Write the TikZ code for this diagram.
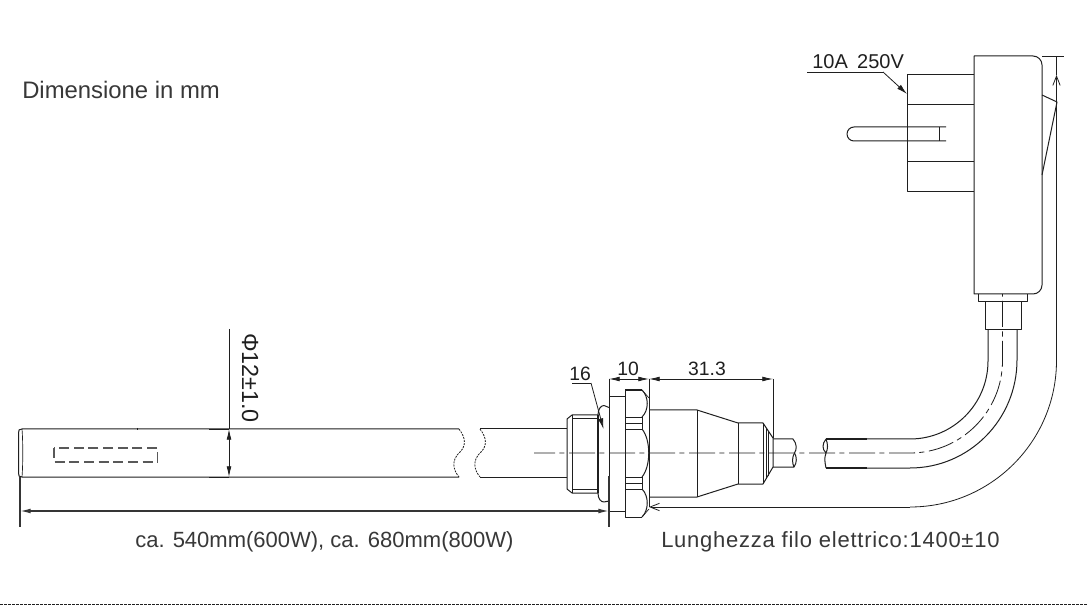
\documentclass[tikz,border=0pt]{standalone}
\usepackage{fontspec}
\setmainfont{Liberation Sans}
\usetikzlibrary{arrows.meta}
\definecolor{ink}{gray}{0.12}
\definecolor{txt}{gray}{0.22}
\tikzset{
  part/.style={draw=ink,line width=0.75pt,line join=round},
  thin part/.style={draw=ink,line width=0.5pt},
  breakline/.style={draw=ink,line width=0.6pt,dash pattern=on 1.5pt off 0.8pt},
  centre/.style={draw=ink,line width=0.6pt,dash pattern=on 19.5pt off 3.2pt on 3.8pt off 3.5pt,dash phase=3.75pt},
  hidden/.style={draw=gray!70!black,line width=0.8pt,dash pattern=on 7.5pt off 3.5pt},
  dimline/.style={draw=ink,line width=0.6pt},
  heavydim/.style={draw=ink!90,line width=1pt},
  fillarrow/.style={-{Latex[length=8pt,width=4pt]}},
  twoarrow/.style={{Latex[length=8pt,width=3.6pt]}-{Latex[length=8pt,width=3.6pt]}},
  openarrow/.style={-{Straight Barb[length=7pt,width=5.5pt]}},
  label/.style={inner sep=0pt,anchor=base west,text=txt},
  dimtext/.style={inner sep=0pt,anchor=base,text=ink,font=\fontsize{14.5}{15}\selectfont}
}
\begin{document}
\begin{tikzpicture}[x=0.75pt,y=-0.75pt]
\useasboundingbox (0,0) rectangle (1088,605);
\fill[white] (0,0) rectangle (1088,605);
% coordinates of the dimension and leader ends
\coordinate (rodL) at (20,511);
\coordinate (rodR) at (609,511);
\coordinate (rodT) at (229,429);
\coordinate (rodB) at (229,477);
% rod
\draw[part] (459,429) -- (22,429) .. controls (19,429) and (18.5,430) .. (18.5,433) -- (18.5,473) .. controls (18.5,476) and (19,477) .. (22,477) -- (459,477);
\draw[thin part] (22,429) .. controls (23,440) and (23,466) .. (22,477);
\draw[thin part] (137,428) -- (137,430.5);
\draw[hidden] (54,448) rectangle (157.5,462);
\draw[breakline] (459,429) .. controls (466,438) and (466,446) .. (460,452) .. controls (451,460) and (453,470) .. (459,477);
\draw[breakline] (480,429) .. controls (487,438) and (487,446) .. (481,452) .. controls (472,460) and (474,470) .. (480,477);
\draw[part] (480,429) -- (567,429);
\draw[part] (480,477) -- (567,477);
% thread
\draw[part] (598,415) -- (572,415) -- (567,419) -- (567,489) -- (572,493) -- (598,493);
\draw[thin part] (572,415) -- (572,493);
\draw[thin part] (572,418) -- (598,418);
\draw[thin part] (572,489) -- (598,489);
\draw[part,line width=1pt] (598,415) -- (598,493);
% o-ring
\draw[part] (598,415) .. controls (598,409) and (601,405.5) .. (604,405.5) -- (609,407.5);
\draw[part] (598,493) .. controls (598,499) and (601,502) .. (604,502) -- (609,501);
% plate
\draw[part] (625,397) -- (609,397) -- (609,476);
\draw[part] (609,511) -- (625,511);
% nut
\draw[part] (642,390) -- (625,390) -- (625,517) -- (642,517);
\draw[part,line width=1.2pt] (625,390) -- (642,390);
\draw[thin part] (642,390) -- (649,398);
\draw[thin part] (642,517) -- (649,509);
\draw[part] (642,390) .. controls (649,397) and (649,410) .. (642,417);
\draw[part] (642,429) .. controls (651,440) and (651,466) .. (642,477);
\draw[part] (642,489) .. controls (649,496) and (649,510) .. (642,517);
\foreach \yy in {417,423,429,477,483,489} {\draw[thin part] (625,\yy) -- (642,\yy);}
\draw[thin part] (642,417) -- (642,429);
\draw[thin part] (642,477) -- (642,489);
% body
\draw[part] (649,410) -- (697,410) -- (738,423) -- (763,423) -- (773,438) -- (773,467) -- (763,484) -- (738,484) -- (697,497) -- (649,497);
\draw[part] (697,410) -- (697,497);
\draw[part] (738,423) -- (738,484);
\draw[part] (763,423) -- (763,484);
\draw[thin part] (766,428) -- (766,479);
\draw[thin part] (768,431) -- (768,476);
% cable stub
\draw[part] (773,439) -- (793,439) .. controls (797,444) and (797,449) .. (794.5,453) .. controls (792,457) and (792,463) .. (794,467) -- (773,467);
\draw[part] (794.5,453) .. controls (797,457) and (797,463) .. (794,467);
% cable
\draw[part] (826,439) .. controls (822,444) and (822,449) .. (826,453) .. controls (828,449) and (828,444) .. (826,439);
\draw[part] (826,453) .. controls (824,458) and (825,463) .. (826,468);
\draw[part] (826,439) -- (910,439) arc[start angle=90,end angle=0,radius=78] -- (988,330);
\draw[part] (826,468) -- (910,468) arc[start angle=90,end angle=0,x radius=107,y radius=108] -- (1017,330);
\draw[part,line width=1pt] (826,439) -- (867,439);
\draw[part,line width=1pt] (826,468) -- (867,468);
% centre lines
\draw[centre] (534,453) -- (910,453) arc[start angle=90,end angle=0,radius=92.5] -- (1002.5,294);
% plug housing
\draw[part] (974,294) -- (974,56) -- (1033,56) arc[start angle=270,end angle=360,radius=9] -- (1042,285) arc[start angle=0,end angle=90,radius=9] -- cycle;
\draw[part] (978,294) -- (978,302) -- (1027,302) -- (1027,294);
\draw[part] (985,302) -- (985,330) -- (1021,330) -- (1021,302);
% switch
\draw[part] (1042,95) -- (1057,102) -- (1042,175);
% plug body
\draw[part] (974,75) -- (907,75) -- (907,192) -- (974,192);
\draw[part] (907,105) -- (974,105);
\draw[part] (907,162) -- (974,162);
\draw[part] (946,127) -- (854,127) arc[start angle=270,end angle=90,radius=7] -- (946,141);
\draw[part] (939,127) -- (939,141);
% total length dimension
\draw[heavydim] (20,477) -- (20,527);
\draw[heavydim] (609,476) -- (609,527);
\draw[heavydim,twoarrow] (rodL) -- (rodR);
% diameter dimension
\draw[dimline] (229,329) -- (rodT);
\draw[dimline] (209,429) -- (rodT);
\draw[dimline] (209,477) -- (rodB);
\draw[dimline,twoarrow] (rodT) -- (rodB);
% 10 and 31.3 dimensions
\coordinate (d1) at (609,379);
\coordinate (d2) at (649,379);
\coordinate (d3) at (773,379);
\draw[dimline] (d1) -- (609,397);
\draw[dimline] (d2) -- (649,507);
\draw[dimline] (d3) -- (773,438);
\draw[dimline,twoarrow] (d1) -- (d2);
\draw[dimline,twoarrow] (d2) -- (d3);
% 16 leader
\coordinate (l16) at (591,383);
\coordinate (t16) at (603.5,429);
\draw[dimline] (572,383) -- (l16);
\draw[dimline,fillarrow] (l16) -- (t16);
% plug leader
\coordinate (lp) at (883,72);
\coordinate (tp) at (907,94);
\draw[dimline] (807,72) -- (lp);
\draw[dimline,fillarrow] (lp) -- (tp);
% cord length dimension
\coordinate (c1) at (649,507);
\coordinate (c2) at (1056.5,75);
\draw[dimline,openarrow] (910,507) -- (c1);
\draw[dimline] (910,507) arc[start angle=90,end angle=0,radius=146.5] -- (1056.5,85);
\draw[dimline,openarrow] (1056.5,85) -- (c2);
\draw[dimline] (1056.5,75) -- (1056.5,56);
\draw[dimline] (1042,56) -- (1064,56);
% bottom rule
\draw[draw=ink,line width=0.7pt,dash pattern=on 2.2pt off 0.8pt] (0,604) -- (1088,604);
% texts
\node[label,font=\fontsize{17.9}{18}\selectfont] (tunits) at (22,99) {Dimensione in mm};
\node[label,font=\fontsize{16.5}{18}\selectfont] (tlen) at (135,547) {ca. 540mm(600W), ca. 680mm(800W)};
\node[label,font=\fontsize{16.5}{18}\selectfont\addfontfeature{LetterSpace=3.4}] (tcord) at (661,547) {Lunghezza filo elettrico:1400±10};
\node[dimtext] (t10) at (628,376) {10};
\node[dimtext] (t313) at (707,376) {31.3};
\node[dimtext] (t16) at (580,381) {16};
\node[dimtext,anchor=base west,font=\fontsize{15}{16}\selectfont] (tv) at (812,69) {10A\hspace{7pt}250V};
\node[dimtext,rotate=-90,anchor=base,font=\fontsize{17.5}{18}\selectfont] (tphi) at (242,378) {Φ12±1.0};
\end{tikzpicture}
\end{document}
